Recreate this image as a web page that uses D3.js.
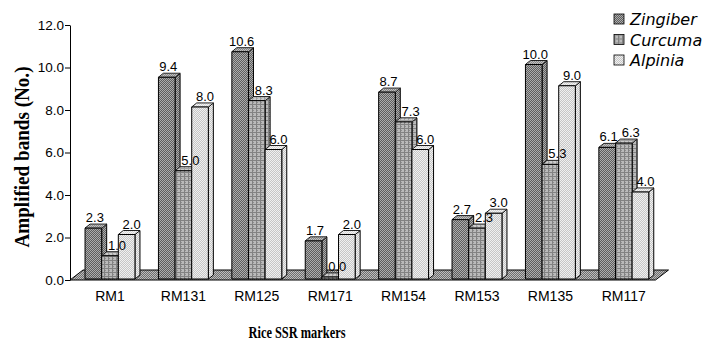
<!DOCTYPE html>
<html>
<head>
<meta charset="utf-8">
<script src="https://cdn.jsdelivr.net/npm/d3@7"></script>
<style>
  html, body { margin: 0; padding: 0; background: #fff; }
  svg { display: block; }
</style>
</head>
<body>
<svg id="chart" width="707" height="347"></svg>
<script>
// Amplified bands per rice SSR marker in three Zingiberaceae genera
const categories = ["RM1", "RM131", "RM125", "RM171", "RM154", "RM153", "RM135", "RM117"];
const seriesNames = ["Zingiber", "Curcuma", "Alpinia"];
const zingiber = [2.3, 9.4, 10.6, 1.7, 8.7, 2.7, 10.0, 6.1];
const curcuma  = [1.0, 5.0, 8.3, 0.0, 7.3, 2.3, 5.3, 6.3];
const alpinia  = [2.0, 8.0, 6.0, 2.0, 6.0, 3.0, 9.0, 4.0];
const yTicks   = [0, 2, 4, 6, 8, 10, 12];

const seriesValues = [zingiber, curcuma, alpinia];

const svg = d3.select("#chart");
const sans = "'Liberation Sans', Arial, sans-serif";
const serif = "'Liberation Serif', 'Times New Roman', serif";

// scales
const y = d3.scaleLinear().domain([0, 12]).range([280, 25]);
const x = d3.scaleBand().domain(categories).range([73.3, 660.5])
  .paddingInner(0.32).paddingOuter(0.16);
const xs = d3.scaleBand().domain(seriesNames).range([0, x.bandwidth()]).padding(0);

// 3-D geometry
const BAR_DX = 5, BAR_DY = 4, BAR_LIFT = 3;
const FLOOR_DX = 13, FLOOR_DY = 10;
const axisX = 70;

// dithered fills
const defs = svg.append("defs");
function checker(id, a, b) {
  const p = defs.append("pattern").attr("id", id)
    .attr("width", 2).attr("height", 2).attr("patternUnits", "userSpaceOnUse");
  p.append("rect").attr("width", 2).attr("height", 2).attr("fill", a);
  p.append("rect").attr("width", 1).attr("height", 1).attr("fill", b);
  p.append("rect").attr("x", 1).attr("y", 1).attr("width", 1).attr("height", 1).attr("fill", b);
}
checker("pat-zingiber", "#5e5e5e", "#adadad");
checker("pat-alpinia", "#c6c6c6", "#f0f0f0");
checker("pat-floor", "#6e6e6e", "#bdbdbd");
(function () {
  const p = defs.append("pattern").attr("id", "pat-curcuma")
    .attr("width", 4).attr("height", 4).attr("patternUnits", "userSpaceOnUse");
  p.append("rect").attr("width", 4).attr("height", 4).attr("fill", "#bababa");
  p.append("rect").attr("x", 1).attr("y", 2).attr("width", 1).attr("height", 1).attr("fill", "#8e8e8e");
  p.append("rect").attr("x", 3).attr("y", 0).attr("width", 1).attr("height", 1).attr("fill", "#8e8e8e");
  p.append("rect").attr("x", 0).attr("y", 0).attr("width", 4).attr("height", 1).attr("fill", "#828282");
  p.append("rect").attr("x", 0).attr("y", 0).attr("width", 1).attr("height", 4).attr("fill", "#828282");
})();
const fills = { Zingiber: "url(#pat-zingiber)", Curcuma: "url(#pat-curcuma)", Alpinia: "url(#pat-alpinia)" };

// floor
const [r0, r1] = x.range();
const floorFrontRight = r1 - 5;
svg.append("polygon")
  .attr("points", [
    [axisX, y(0)], [floorFrontRight, y(0)],
    [floorFrontRight + FLOOR_DX, y(0) - FLOOR_DY], [axisX + FLOOR_DX, y(0) - FLOOR_DY]
  ].map(p => p.join(",")).join(" "))
  .attr("fill", "url(#pat-floor)").attr("stroke", "#000").attr("stroke-width", 1);

// bars, drawn left to right so each front face hides the previous side face
const bars = svg.append("g");
const labelShift = { Zingiber: 1.5, Curcuma: 7, Alpinia: 5 };
categories.forEach((cat, i) => {
  seriesNames.forEach((s, k) => {
    const v = seriesValues[k][i];
    const x0 = x(cat) + xs(s), w = xs.bandwidth();
    const top = y(v) - BAR_LIFT, base = y(0) - 1;
    const g = bars.append("g")
      .attr("fill", fills[s]).attr("stroke", "#000").attr("stroke-width", 1)
      .attr("stroke-linejoin", "round");
    // side face
    g.append("polygon").attr("points", [
      [x0 + w, top], [x0 + w + BAR_DX, top - BAR_DY],
      [x0 + w + BAR_DX, base - BAR_DY], [x0 + w, base]
    ].map(p => p.join(",")).join(" "));
    // top face
    const topPts = [
      [x0, top], [x0 + BAR_DX, top - BAR_DY],
      [x0 + w + BAR_DX, top - BAR_DY], [x0 + w, top]
    ].map(p => p.join(",")).join(" ");
    g.append("polygon").attr("points", topPts);
    g.append("polygon").attr("points", topPts)
      .attr("fill", "#fff").attr("fill-opacity", 0.25).attr("stroke", "none");
    // front face
    g.append("rect").attr("x", x0).attr("y", top)
      .attr("width", w).attr("height", Math.max(0, base - top));
  });
});

// value labels
categories.forEach((cat, i) => {
  seriesNames.forEach((s, k) => {
    const v = seriesValues[k][i];
    svg.append("text")
      .attr("x", x(cat) + xs(s) + xs.bandwidth() / 2 + labelShift[s])
      .attr("y", y(v) - BAR_LIFT - 6)
      .attr("text-anchor", "middle")
      .attr("font-family", sans).attr("font-size", 13)
      .attr("fill", "#000")
      .text(d3.format(".1f")(v));
  });
});

// value axis
const yAxis = svg.append("g").attr("transform", `translate(${axisX},0)`)
  .call(d3.axisLeft(y).tickValues(yTicks).tickFormat(d3.format(".1f"))
    .tickSize(5).tickSizeOuter(0).tickPadding(1));
yAxis.select(".domain").attr("stroke", "#000");
yAxis.selectAll(".tick line").attr("stroke", "#000");
yAxis.selectAll(".tick text")
  .attr("font-family", sans).attr("font-size", 13.5).attr("fill", "#000");

// category labels
svg.append("g").selectAll("text").data(categories).join("text")
  .attr("x", d => x(d) + x.bandwidth() / 2)
  .attr("y", 301)
  .attr("text-anchor", "middle")
  .attr("font-family", sans).attr("font-size", 14).attr("fill", "#000")
  .text(d => d);

// axis titles
svg.append("text")
  .attr("transform", "translate(29,157) rotate(-90)")
  .attr("text-anchor", "middle")
  .attr("font-family", serif).attr("font-weight", "bold").attr("font-size", 21)
  .attr("textLength", 181).attr("lengthAdjust", "spacingAndGlyphs")
  .text("Amplified bands (No.)");
svg.append("text")
  .attr("x", 297).attr("y", 338)
  .attr("text-anchor", "middle")
  .attr("font-family", serif).attr("font-weight", "bold").attr("font-size", 17)
  .attr("textLength", 97).attr("lengthAdjust", "spacingAndGlyphs")
  .text("Rice SSR markers");

// legend
const legend = svg.append("g").attr("transform", "translate(614,14)");
seriesNames.forEach((s, k) => {
  const row = legend.append("g").attr("transform", `translate(0,${k * 20.5})`);
  row.append("rect").attr("width", 10).attr("height", 10)
    .attr("fill", fills[s]).attr("stroke", "#000").attr("stroke-width", 0.8);
  row.append("text").attr("x", 16).attr("y", 11)
    .attr("font-family", "'DejaVu Sans', sans-serif").attr("font-style", "italic")
    .attr("font-size", 16).attr("fill", "#000")
    .text(s);
});
</script>
</body>
</html>
